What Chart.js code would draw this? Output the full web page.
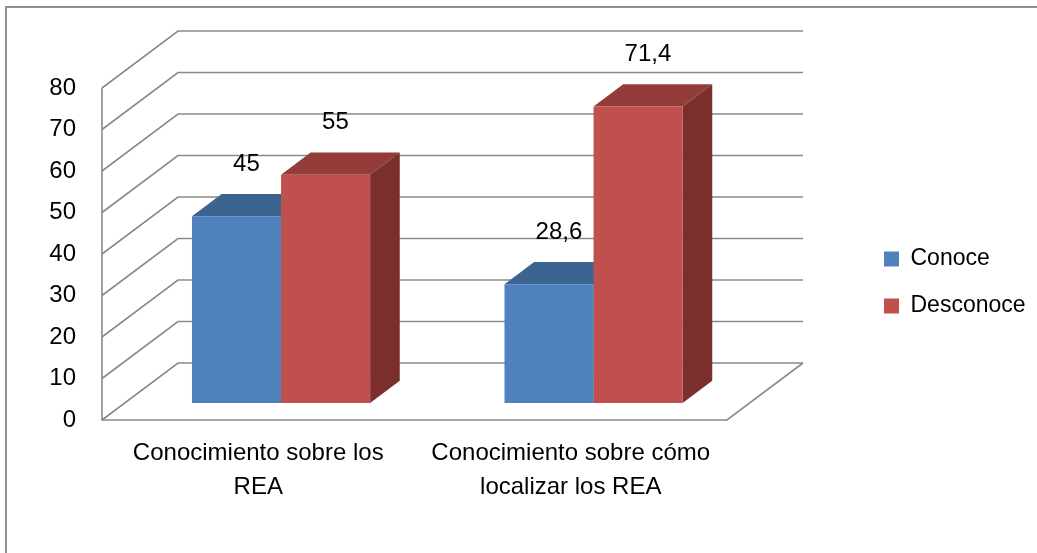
<!DOCTYPE html>
<html>
<head>
<meta charset="utf-8">
<script src="https://cdn.jsdelivr.net/npm/chart.js@4.4.1/dist/chart.umd.min.js"></script>
<style>
  body { margin: 0; background: #fff; }
  canvas { display: block; }
</style>
</head>
<body>
<canvas id="chart" width="1037" height="553"></canvas>
<script>
// data
const categories = [
  ['Conocimiento sobre los', 'REA'],
  ['Conocimiento sobre cómo', 'localizar los REA']
];
const seriesNames = ['Conoce', 'Desconoce'];
const conoce = [45, 28.6];
const desconoce = [55, 71.4];
const yMin = 0;
const yMax = 80;
const yStep = 10;

// colours: front, top, side
const blue = { front: '#4F81BD', top: '#3C6490', side: '#385D8A' };
const red = { front: '#C0504D', top: '#943C3A', side: '#7A2F2D' };

// 3D look: offset of back wall from the front plane
const depth = { dx: 76, dy: -57 };
const barFront = 0.3;  // where the bar front sits (fraction of depth)
const barDepth = 0.39; // how deep the bars are
const lineColor = '#8a8a8a';

const fontFamily = "'Liberation Sans', Arial, sans-serif";
Chart.defaults.font.family = fontFamily;
Chart.defaults.color = '#000';

const wall3d = {
  id: 'wall3d',
  beforeDraw(chart) {
    // outer chart border (only top and left visible)
    const ctx = chart.ctx;
    ctx.save();
    ctx.strokeStyle = '#8e8e8e';
    ctx.lineWidth = 2;
    ctx.beginPath();
    ctx.moveTo(6, chart.height);
    ctx.lineTo(6, 7);
    ctx.lineTo(chart.width, 7);
    ctx.stroke();
    ctx.restore();
  },
  beforeDatasetsDraw(chart) {
    const { ctx, chartArea: a, scales: { y } } = chart;
    ctx.save();
    ctx.strokeStyle = lineColor;
    ctx.lineWidth = 1.6;
    y.ticks.forEach(t => {
      const py = y.getPixelForValue(t.value);
      ctx.beginPath();
      ctx.moveTo(a.left, py);
      ctx.lineTo(a.left + depth.dx, py + depth.dy);
      ctx.lineTo(a.right + depth.dx, py + depth.dy);
      ctx.stroke();
    });
    // front edge of side wall and floor
    ctx.beginPath();
    ctx.moveTo(a.left, a.top);
    ctx.lineTo(a.left, a.bottom);
    ctx.lineTo(a.right, a.bottom);
    ctx.lineTo(a.right + depth.dx, a.bottom + depth.dy);
    ctx.stroke();

    // top and side faces of the bars
    const fx = depth.dx * barFront, fy = depth.dy * barFront;
    const bx = depth.dx * barDepth, by = depth.dy * barDepth;
    chart.data.datasets.forEach((ds, i) => {
      chart.getDatasetMeta(i).data.forEach(bar => {
        const l = bar.x - bar.width / 2 + fx;
        const r = bar.x + bar.width / 2 + fx;
        const t = bar.y + fy;
        const b = bar.base + fy;
        ctx.fillStyle = ds.topColor;
        ctx.beginPath();
        ctx.moveTo(l, t);
        ctx.lineTo(r, t);
        ctx.lineTo(r + bx, t + by);
        ctx.lineTo(l + bx, t + by);
        ctx.closePath();
        ctx.fill();
        ctx.fillStyle = ds.sideColor;
        ctx.beginPath();
        ctx.moveTo(r, t);
        ctx.lineTo(r + bx, t + by);
        ctx.lineTo(r + bx, b + by);
        ctx.lineTo(r, b);
        ctx.closePath();
        ctx.fill();
      });
    });
    ctx.restore();

    // front faces drawn by chart.js, pushed back into the scene
    ctx.save();
    ctx.translate(fx, fy);
  },
  afterDatasetsDraw(chart) {
    const ctx = chart.ctx;
    ctx.restore();
    const fx = depth.dx * barFront, fy = depth.dy * barFront;
    const bx = depth.dx * barDepth, by = depth.dy * barDepth;
    ctx.save();
    ctx.font = '24px ' + fontFamily;
    ctx.fillStyle = '#000';
    ctx.textAlign = 'center';
    ctx.textBaseline = 'middle';
    chart.data.datasets.forEach((ds, i) => {
      chart.getDatasetMeta(i).data.forEach((bar, j) => {
        const text = String(ds.data[j]).replace('.', ',');
        ctx.fillText(text, bar.x + fx + bx / 3, bar.y + fy + by - 30);
      });
    });
    ctx.restore();
  }
};

const ctx = document.getElementById('chart').getContext('2d');
const myChart = new Chart(ctx, {
  type: 'bar',
  data: {
    labels: categories,
    datasets: [
      {
        label: seriesNames[0],
        data: conoce,
        backgroundColor: blue.front,
        topColor: blue.top,
        sideColor: blue.side,
        borderWidth: 0
      },
      {
        label: seriesNames[1],
        data: desconoce,
        backgroundColor: red.front,
        topColor: red.top,
        sideColor: red.side,
        borderWidth: 0
      }
    ]
  },
  options: {
    responsive: false,
    animation: false,
    devicePixelRatio: 1,
    layout: {
      padding: { left: 6, right: 6.2, top: 88, bottom: 43 }
    },
    datasets: {
      bar: {
        categoryPercentage: 0.57,
        barPercentage: 1,
        clip: false
      }
    },
    scales: {
      x: {
        grid: { display: false, drawTicks: false },
        border: { display: false },
        ticks: {
          font: { size: 24, lineHeight: 1.42 },
          color: '#000',
          padding: 16,
          maxRotation: 0
        },
        afterFit(scale) { scale.height = 90; }
      },
      y: {
        min: yMin,
        max: yMax,
        grid: { display: false, drawTicks: false },
        border: { display: false },
        ticks: {
          stepSize: yStep,
          font: { size: 24 },
          color: '#000',
          padding: 26
        },
        afterFit(scale) { scale.width = 96; }
      },
      // empty space between plot and legend
      gap: {
        type: 'linear',
        position: 'right',
        grid: { display: false, drawTicks: false },
        border: { display: false },
        ticks: { display: false },
        afterFit(scale) { scale.width = 133; }
      }
    },
    plugins: {
      legend: {
        position: 'right',
        fullSize: false,
        // empty title only lowers the entries to where they sit in the original
        title: {
          display: true,
          text: '',
          font: { size: 12, lineHeight: 1 },
          padding: { top: 22.5, bottom: 22.5 }
        },
        labels: {
          boxWidth: 15,
          boxHeight: 15,
          padding: 24,
          font: { size: 23 },
          color: '#000'
        }
      },
      tooltip: { enabled: false }
    }
  },
  plugins: [wall3d]
});
</script>
</body>
</html>
